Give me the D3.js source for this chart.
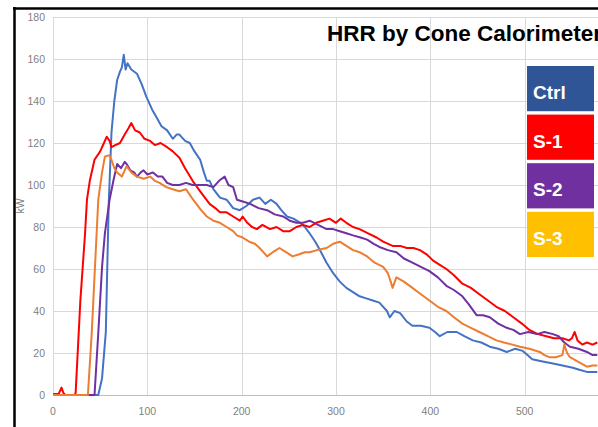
<!DOCTYPE html>
<html>
<head>
<meta charset="utf-8">
<script src="https://cdn.jsdelivr.net/npm/d3@7"></script>
<style>
  body { margin: 0; background: #fff; }
  svg { display: block; }
</style>
</head>
<body>
<svg id="chart"></svg>
<script>
const width = 598;
const height = 427;

const seriesNames = ['Ctrl', 'S-1', 'S-2', 'S-3'];
const lineColours = ['#4472c4', '#ff0000', '#7030a0', '#ed7d31'];
const boxColours = ['#2f5597', '#ff0000', '#7030a0', '#ffc000'];

const yTicks = [0, 20, 40, 60, 80, 100, 120, 140, 160, 180];
const xTicks = [0, 100, 200, 300, 400, 500];

// [time (s), HRR (kW)]
const ctrlData = [
  [0, 0], [48, 0], [52, 8], [56, 30], [59, 90], [62, 125], [65, 140], [68, 150],
  [71, 154], [73, 156], [75, 162], [77, 155], [79, 158], [83, 155], [89, 153],
  [94, 148], [99, 142], [105, 136], [110, 132], [115, 128], [121, 126], [127, 122],
  [131, 124], [134, 124], [140, 121], [145, 120], [150, 116], [156, 112], [160, 106],
  [163, 102], [166, 102], [170, 98], [177, 94], [184, 93], [191, 89], [198, 88],
  [205, 90], [212, 93], [219, 94], [225, 91], [231, 93], [237, 91], [242, 88],
  [248, 85], [255, 84], [262, 82], [267, 80], [272, 77], [278, 73], [283, 69],
  [290, 63], [297, 58], [304, 54], [311, 51], [318, 49], [325, 47], [332, 46],
  [339, 45], [346, 44], [354, 40], [357, 37], [362, 40], [368, 39], [375, 35],
  [381, 33], [390, 33], [399, 32], [405, 30], [410, 28], [418, 30], [428, 30],
  [436, 28], [445, 26], [454, 25], [463, 23], [472, 22], [481, 20.5], [490, 22],
  [498, 21], [503, 19], [508, 17], [519, 16], [530, 15], [540, 14], [551, 13],
  [558, 12], [566, 11], [577, 11],
];
const s1Data = [
  [0, 0.5], [6, 0.5], [9, 3.5], [11, 1], [13, 0], [23, 0], [24, 1], [29, 45],
  [34, 77], [36, 93], [39, 102], [44, 112], [50, 116], [54, 120], [57, 123],
  [60, 121], [62, 118], [66, 119], [71, 120], [76, 124], [80, 127], [83, 129.5],
  [87, 126], [92, 125], [97, 122], [103, 121], [108, 119], [114, 120], [121, 118],
  [127, 116], [134, 113], [140, 108], [148, 102], [156, 97], [161, 94], [166, 91],
  [172, 89], [177, 87], [184, 87], [191, 85], [198, 83], [201, 85], [206, 82],
  [211, 80], [216, 79], [222, 81], [230, 79], [237, 80], [244, 78], [251, 78],
  [258, 80], [265, 81], [272, 80], [279, 82], [286, 83], [293, 84], [300, 82],
  [305, 84], [311, 82], [318, 80], [325, 79], [334, 77], [343, 75], [350, 73],
  [360, 71], [368, 71], [375, 70], [382, 70], [389, 69], [396, 67], [403, 64],
  [410, 62], [417, 60], [425, 57], [434, 53], [443, 51], [452, 48], [461, 45],
  [470, 42], [479, 40], [488, 37], [497, 34], [505, 31], [514, 29], [523, 28],
  [531, 27], [540, 27], [547, 26], [550, 27], [553, 30], [556, 26], [561, 24],
  [566, 25], [572, 24], [577, 25],
];
const s2Data = [
  [0, 0], [44, 0], [48, 29.5], [52, 61], [55, 77], [60, 93], [64, 102], [68, 110],
  [72, 108], [76, 111], [78, 110], [82, 107], [86, 106], [89, 104], [93, 106],
  [96, 107], [100, 105], [106, 106], [111, 104], [116, 104], [121, 101], [127, 100],
  [134, 100], [141, 101], [148, 100], [156, 100], [163, 100], [170, 99], [176, 102],
  [182, 104], [186, 100], [191, 99], [195, 93], [202, 92], [209, 91], [218, 89],
  [227, 88], [235, 86], [244, 85], [251, 83], [258, 82], [265, 82], [272, 83],
  [281, 81], [290, 79], [297, 79], [304, 78], [311, 77], [318, 76], [326, 75],
  [333, 74], [340, 72], [346, 70.5], [355, 69], [364, 68], [372, 65], [381, 63],
  [390, 61], [399, 59], [408, 56], [417, 52], [425, 50], [434, 47], [441, 43],
  [449, 38], [456, 38], [463, 37], [472, 34], [481, 32], [488, 31], [495, 29],
  [504, 30], [513, 29], [521, 30], [530, 29], [536, 28], [542, 25], [548, 23],
  [557, 22], [566, 20.5], [572, 19], [577, 19],
];
const s3Data = [
  [0, 0], [37, 0], [41, 29], [44.5, 61], [48, 93], [52, 106], [55, 113.5], [58, 114],
  [60, 114], [62, 112], [65, 108], [68, 106], [73, 104], [78, 109], [83, 106],
  [89, 104], [96, 103], [103, 104], [108, 102], [113, 101], [120, 99], [127, 98],
  [134, 97], [141, 98], [147, 94], [152, 91], [157, 88], [163, 85], [170, 83],
  [177, 82], [184, 80], [191, 78], [195, 76], [201, 75], [208, 73], [214, 72],
  [219, 70], [223, 68], [227, 66], [233, 68], [240, 70], [247, 68], [254, 66],
  [261, 67], [267, 68], [272, 68], [280, 69], [290, 70], [297, 72], [304, 73],
  [311, 71], [318, 69], [325, 68], [333, 66], [341, 63], [350, 61], [355, 58],
  [358, 54], [360, 51], [364, 56], [372, 54], [381, 51], [390, 48], [399, 45],
  [408, 42], [417, 40], [425, 37], [434, 34], [443, 32], [452, 30], [461, 28],
  [470, 26], [478, 25], [487, 24], [495, 23], [505, 22], [516, 20.5], [521, 19],
  [526, 18], [533, 18], [540, 19], [542, 24], [545, 20], [548, 18], [556, 16],
  [566, 13.5], [572, 14], [577, 14],
];
const allSeries = [ctrlData, s1Data, s2Data, s3Data];

const svg = d3.select('#chart').attr('width', width).attr('height', height);
svg.append('rect').attr('width', width).attr('height', height).attr('fill', '#fff');

// axis runs to 600 s, which sits just past the right edge of the picture
const xScale = d3.scaleLinear().domain([0, 600]).range([53, 619]);
const yScale = d3.scaleLinear().domain([0, 180]).range([395, 17]);

// gridlines
svg.append('g')
  .selectAll('line')
  .data(yTicks)
  .join('line')
  .attr('x1', xScale(0))
  .attr('x2', width)
  .attr('y1', d => Math.round(yScale(d)) + 0.5)
  .attr('y2', d => Math.round(yScale(d)) + 0.5)
  .attr('stroke', d => (d === 0 ? '#bfbfbf' : '#d9d9d9'))
  .attr('stroke-width', 1);
svg.append('g')
  .selectAll('line')
  .data(xTicks)
  .join('line')
  .attr('x1', d => Math.round(xScale(d)) + 0.5)
  .attr('x2', d => Math.round(xScale(d)) + 0.5)
  .attr('y1', yScale(180))
  .attr('y2', yScale(0))
  .attr('stroke', '#d9d9d9')
  .attr('stroke-width', 1);

// tick labels
svg.append('g')
  .selectAll('text')
  .data(yTicks)
  .join('text')
  .attr('x', 45)
  .attr('y', d => yScale(d) + 4)
  .attr('text-anchor', 'end')
  .attr('font-family', 'Liberation Sans, Arial, sans-serif')
  .attr('font-size', 10.5)
  .attr('fill', '#7f7f7f')
  .text(d => d);
svg.append('g')
  .selectAll('text')
  .data(xTicks)
  .join('text')
  .attr('x', d => xScale(d))
  .attr('y', 415)
  .attr('text-anchor', 'middle')
  .attr('font-family', 'Liberation Sans, Arial, sans-serif')
  .attr('font-size', 10.5)
  .attr('fill', '#7f7f7f')
  .text(d => d);

svg.append('text')
  .attr('transform', `translate(24,${yScale(90)}) rotate(-90)`)
  .attr('text-anchor', 'middle')
  .attr('font-family', 'Liberation Sans, Arial, sans-serif')
  .attr('font-size', 10.5)
  .attr('fill', '#7f7f7f')
  .text('kW');

// series lines
const line = d3.line()
  .x(d => xScale(d[0]))
  .y(d => yScale(d[1]));
svg.append('g')
  .selectAll('path')
  .data(allSeries)
  .join('path')
  .attr('d', line)
  .attr('fill', 'none')
  .attr('stroke', (d, i) => lineColours[i])
  .attr('stroke-width', 2)
  .attr('stroke-linejoin', 'round');

// title
svg.append('text')
  .attr('x', 327)
  .attr('y', 41)
  .attr('font-family', 'Liberation Sans, Arial, sans-serif')
  .attr('font-weight', 'bold')
  .attr('font-size', 22.5)
  .attr('fill', '#000')
  .text('HRR by Cone Calorimeter');

// legend boxes
const boxTop = d3.scaleBand().domain(seriesNames).range([66, 257]).paddingInner(0.07);
const legend = svg.append('g')
  .selectAll('g')
  .data(seriesNames)
  .join('g')
  .attr('transform', d => `translate(527,${boxTop(d)})`);
legend.append('rect')
  .attr('width', 67)
  .attr('height', boxTop.bandwidth())
  .attr('fill', (d, i) => boxColours[i]);
legend.append('text')
  .attr('x', 6)
  .attr('y', 33)
  .attr('font-family', 'Liberation Sans, Arial, sans-serif')
  .attr('font-weight', 'bold')
  .attr('font-size', 19)
  .attr('fill', '#fff')
  .text(d => d);

// outer frame
svg.append('line')
  .attr('x1', 13).attr('x2', width)
  .attr('y1', 8.5).attr('y2', 8.5)
  .attr('stroke', '#000').attr('stroke-width', 2.5);
svg.append('line')
  .attr('x1', 14.5).attr('x2', 14.5)
  .attr('y1', 7).attr('y2', height)
  .attr('stroke', '#000').attr('stroke-width', 2.5);
</script>
</body>
</html>
